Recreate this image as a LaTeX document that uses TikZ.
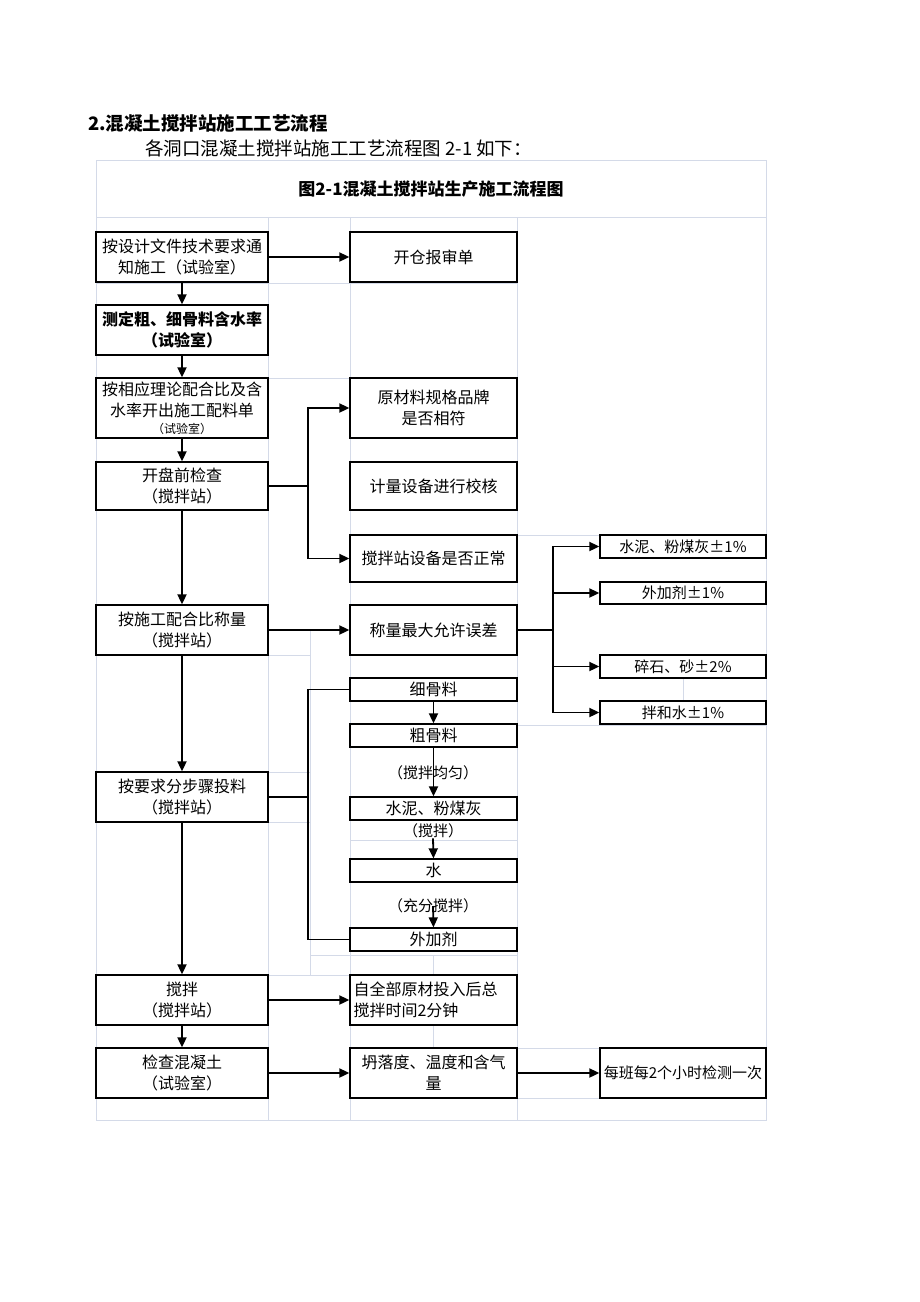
\documentclass[tikz,border=0pt]{standalone}
\usepackage{fontspec}
\setmainfont{Noto Sans CJK SC}
\usetikzlibrary{arrows.meta}
\definecolor{gridc}{RGB}{212,218,232}
\tikzset{
  box/.style={draw=black, line width=1.3pt, fill=white, inner sep=1pt, align=center, font=\fontsize{16}{21}\selectfont},
  rbox/.style={box, font=\fontsize{15}{19}\selectfont},
  lbl/.style={inner sep=0pt, font=\fontsize{15}{19}\selectfont},
  arr/.style={line width=1.8pt, -{Triangle[length=10pt,width=9pt]}},
  ln/.style={line width=1.8pt},
  grid/.style={draw=gridc, line width=0.8pt}
}
\begin{document}
\begin{tikzpicture}[x=1pt,y=-1pt]
\fill[white] (0,0) rectangle (920,1302);
\useasboundingbox (0,0) rectangle (920,1302);

% spreadsheet grid
\draw[grid] (96,160) rectangle (766,1120);
\draw[grid] (96,217) -- (766,217);
\draw[grid] (268,217) -- (268,1120);
\draw[grid] (350,217) -- (350,1120);
\draw[grid] (517,217) -- (517,1120);
\draw[grid] (96,283) -- (517,283);
\draw[grid] (268,378) -- (517,378);
\draw[grid] (517,535) -- (766,535);
\draw[grid] (517,725) -- (766,725);
\draw[grid] (268,655) -- (310,655);
\draw[grid] (268,772) -- (310,772);
\draw[grid] (268,822) -- (310,822);
\draw[grid] (350,840) -- (517,840);
\draw[grid] (310,955) -- (517,955);
\draw[grid] (268,975) -- (350,975);
\draw[grid] (310,630) -- (310,975);
\draw[grid] (433,955) -- (433,975);
\draw[grid] (433,1025) -- (433,1048);
\draw[grid] (683,678) -- (683,701);
\draw[grid] (517,1048) -- (600,1048);
\draw[grid] (517,1098) -- (600,1098);

% headings
\node[anchor=base west, inner sep=0pt, font=\fontsize{18.5}{18.5}\selectfont\bfseries] (h1) at (88,130) {2.混凝土搅拌站施工工艺流程};
\node[anchor=base west, inner sep=0pt, font=\fontsize{18.5}{18.5}\selectfont] (h2) at (145,155) {各洞口混凝土搅拌站施工工艺流程图 2-1 如下：};
\node[inner sep=0pt, font=\fontsize{17}{17}\selectfont\bfseries] (ttl) at (431,189) {图2-1混凝土搅拌站生产施工流程图};

% left column
\node[box, minimum width=172pt, minimum height=50pt] (n1) at (182,257) {按设计文件技术要求通\\知施工（试验室）};
\node[box, minimum width=172pt, minimum height=50pt, font=\fontsize{16}{21}\selectfont\bfseries] (n2) at (182,330) {测定粗、细骨料含水率\\（试验室）};
\node[box, minimum width=172pt, minimum height=60pt] (n3) at (182,408) {按相应理论配合比及含\\水率开出施工配料单\\[-4pt]{\fontsize{12}{14}\selectfont（试验室）}};
\node[box, minimum width=172pt, minimum height=48pt] (n4) at (182,486) {开盘前检查\\（搅拌站）};
\node[box, minimum width=172pt, minimum height=50pt] (n5) at (182,630) {按施工配合比称量\\（搅拌站）};
\node[box, minimum width=172pt, minimum height=50pt] (n6) at (182,797) {按要求分步骤投料\\（搅拌站）};
\node[box, minimum width=172pt, minimum height=50pt] (n7) at (182,1000) {搅拌\\（搅拌站）};
\node[box, minimum width=172pt, minimum height=50pt] (n8) at (182,1073) {检查混凝土\\（试验室）};

% middle column
\node[box, minimum width=167pt, minimum height=50pt] (ma) at (433.5,257) {开仓报审单};
\node[box, minimum width=167pt, minimum height=60pt] (mb) at (433.5,408) {原材料规格品牌\\是否相符};
\node[box, minimum width=167pt, minimum height=48pt] (mc) at (433.5,486) {计量设备进行校核};
\node[box, minimum width=167pt, minimum height=47pt] (md) at (433.5,558.5) {搅拌站设备是否正常};
\node[box, minimum width=167pt, minimum height=50pt] (me) at (433.5,630) {称量最大允许误差};
\node[box, minimum width=167pt, minimum height=23pt] (mf) at (433.5,689.5) {细骨料};
\node[box, minimum width=167pt, minimum height=23pt] (mg) at (433.5,735.5) {粗骨料};
\node[box, minimum width=167pt, minimum height=23pt] (mh) at (433.5,808.5) {水泥、粉煤灰};
\node[box, minimum width=167pt, minimum height=23pt] (mi) at (433.5,870.5) {水};
\node[box, minimum width=167pt, minimum height=23pt] (mj) at (433.5,939.5) {外加剂};
\node[box, minimum width=167pt, minimum height=50pt, align=left, text width=160pt] (mk) at (433.5,1000) {自全部原材投入后总\\搅拌时间2分钟};
\node[box, minimum width=167pt, minimum height=50pt] (ml) at (433.5,1073) {坍落度、温度和含气\\量};

% right column
\node[rbox, minimum width=166pt, minimum height=23pt] (r1) at (683,546.5) {水泥、粉煤灰±1\%};
\node[rbox, minimum width=166pt, minimum height=22pt] (r2) at (683,593) {外加剂±1\%};
\node[rbox, minimum width=166pt, minimum height=23pt] (r3) at (683,666.5) {碎石、砂±2\%};
\node[rbox, minimum width=166pt, minimum height=23pt] (r4) at (683,712.5) {拌和水±1\%};
\node[rbox, minimum width=166pt, minimum height=50pt] (r5) at (683,1073) {每班每2个小时检测一次};

% step labels
\node[lbl] (t1) at (433,773) {（搅拌均匀）};
\node[lbl] (t2) at (433,831) {（搅拌）};
\node[lbl] (t3) at (433,906) {（充分搅拌）};

% junctions
\coordinate (j1) at (308,486);
\coordinate (j2) at (553,630);
\coordinate (j3) at (308,797);

% connectors
\draw[arr] (n1.east) -- (ma.west);
\draw[arr] (n1.south) -- (n2.north);
\draw[arr] (n2.south) -- (n3.north);
\draw[arr] (n3.south) -- (n4.north);
\draw[arr] (n4.south) -- (n5.north);
\draw[arr] (n5.south) -- (n6.north);
\draw[arr] (n6.south) -- (n7.north);
\draw[arr] (n7.south) -- (n8.north);

\draw[ln] (n4.east) -- (j1);
\draw[arr] (j1) |- (mb.west);
\draw[arr] (j1) |- (md.west);

\draw[arr] (n5.east) -- (me.west);
\draw[ln] (me.east) -- (j2);
\draw[arr] (j2) |- (r1.west);
\draw[arr] (j2) |- (r2.west);
\draw[arr] (j2) |- (r3.west);
\draw[arr] (j2) |- (r4.west);

\draw[ln] (n6.east) -- (j3);
\draw[ln] (j3) |- (mf.west);
\draw[ln] (j3) |- (mj.west);

\draw[arr] (mf.south) -- (mg.north);
\draw[arr] (mg.south) -- (mh.north);
\draw[arr] (t2.south) -- (mi.north);
\draw[arr] (t3.center) -- (mj.north);

\draw[arr] (n7.east) -- (mk.west);
\draw[arr] (n8.east) -- (ml.west);
\draw[arr] (ml.east) -- (r5.west);
\end{tikzpicture}
\end{document}
